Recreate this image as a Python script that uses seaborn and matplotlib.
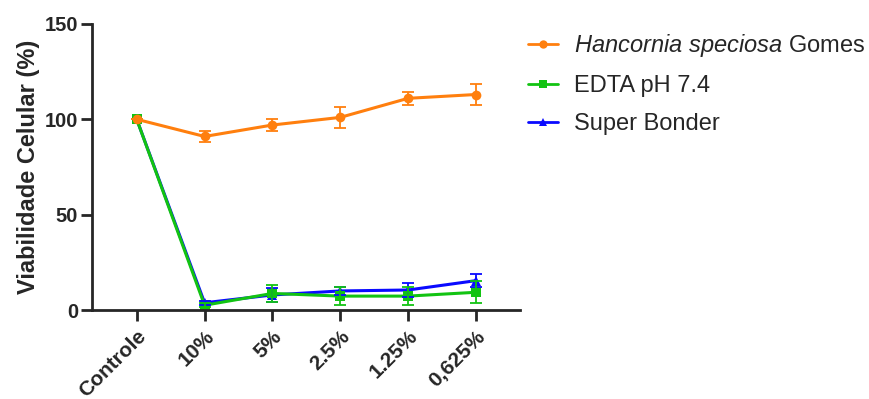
import matplotlib
matplotlib.use('Agg')
import matplotlib.pyplot as plt
import seaborn as sb
import pandas as pd
import numpy as np

# dados (media e desvio)
grupos = ['Controle', '10%', '5%', '2.5%', '1.25%', '0,625%']
hancornia = [100, 91, 97, 101, 111, 113]
hancornia_sd = [0, 3, 3, 5.5, 3.5, 5.5]
edta = [100, 2.5, 8.7, 7.3, 7.3, 9.3]
edta_sd = [0, 1, 4.5, 4.7, 4.7, 5.7]
bonder = [100, 3.8, 7.9, 10, 10.5, 15.4]
bonder_sd = [0, 1, 3.5, 2, 3.5, 3.3]

nome_h = r'$\it{Hancornia\ speciosa}$ Gomes'
series = [('Super Bonder', bonder, bonder_sd, '#0a0aff', '^'),
          ('EDTA pH 7.4', edta, edta_sd, '#12c312', 's'),
          (nome_h, hancornia, hancornia_sd, '#ff7f0e', 'o')]

linhas = []
for nome, v, sd, cor, mk in series:
    linhas.append(pd.DataFrame({'x': range(len(grupos)), 'y': v, 'sd': sd, 'grupo': nome}))
df = pd.concat(linhas, ignore_index=True)

sb.set_style('ticks')
plt.rcParams['font.family'] = ['Liberation Sans', 'DejaVu Sans']
plt.rcParams['mathtext.fontset'] = 'custom'
plt.rcParams['mathtext.it'] = 'Liberation Sans:italic'
plt.rcParams['mathtext.rm'] = 'Liberation Sans'

fig = plt.figure(figsize=(8.7, 3.99), dpi=100)
ax = fig.add_axes([0.1057, 0.223, 0.492, 0.717])

paleta = {nome: cor for nome, v, sd, cor, mk in series}
marcas = {nome: mk for nome, v, sd, cor, mk in series}
sb.lineplot(data=df, x='x', y='y', hue='grupo', style='grupo', palette=paleta,
            markers=marcas, dashes=False, markersize=7, linewidth=2.2,
            markeredgewidth=0, ax=ax, legend=False)
for nome, v, sd, cor, mk in series:
    ax.errorbar(range(len(grupos)), v, yerr=sd, fmt='none', ecolor=cor,
                elinewidth=1.3, capsize=4, capthick=1.3)

ax.set_xlim(-0.66, 5.65)
ax.set_ylim(0, 150)
ax.set_yticks([0, 50, 100, 150])
ax.set_xticks(range(len(grupos)))
ax.set_xticklabels(grupos, rotation=45, ha='right', rotation_mode='anchor')
ax.set_xlabel('')
ax.set_ylabel('Viabilidade Celular (%)', fontsize=17, fontweight='bold', labelpad=3)
for lab in ax.get_xticklabels():
    lab.set_fontweight('bold')
    lab.set_fontsize(15)
for lab in ax.get_yticklabels():
    lab.set_fontweight('bold')
    lab.set_fontsize(14.5)
ax.tick_params(axis='x', length=8, width=2, pad=4)
ax.tick_params(axis='y', length=8, width=2, pad=2)
for s in ['left', 'bottom']:
    ax.spines[s].set_linewidth(2)
sb.despine(ax=ax)

from matplotlib.lines import Line2D
handles = [Line2D([], [], color=cor, marker=mk, markersize=6, lw=2, markeredgewidth=0)
           for nome, v, sd, cor, mk in series[::-1]]
nomes = [s[0] for s in series[::-1]]
ax.legend(handles, nomes, loc='upper left', bbox_to_anchor=(0.97, 1.045), frameon=False,
          fontsize=17, labelspacing=0.68, handlelength=1.25, handletextpad=0.7)

fig.savefig('out.png', dpi=100)
